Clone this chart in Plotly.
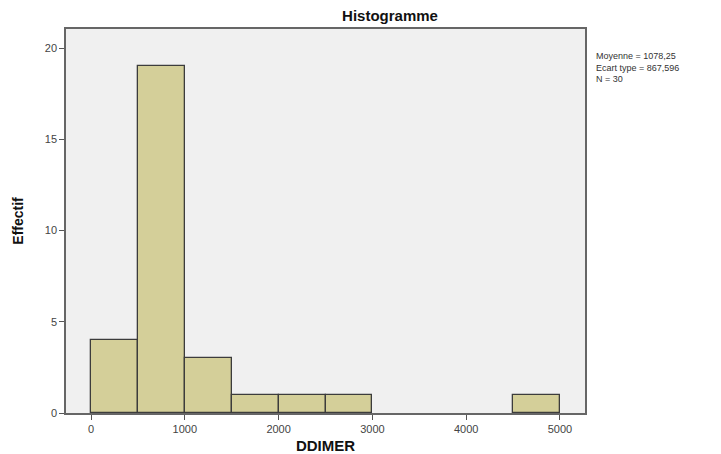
import plotly.graph_objects as go

bin_edges = [0, 500, 1000, 1500, 2000, 2500, 3000, 3500, 4000, 4500, 5000]
counts = [4, 19, 3, 1, 1, 1, 0, 0, 0, 1]
x_ticks = [0, 1000, 2000, 3000, 4000, 5000]
y_ticks = [0, 5, 10, 15, 20]
stats_text = ["Moyenne = 1078,25", "Ecart type = 867,596", "N = 30"]

bins = [((a + b) / 2, b - a, c)
        for a, b, c in zip(bin_edges[:-1], bin_edges[1:], counts) if c > 0]

fig = go.Figure(go.Bar(
    x=[b[0] for b in bins], y=[b[2] for b in bins], width=[b[1] for b in bins],
    marker=dict(color="#d4cf99", line=dict(color="#3c3c3c", width=1.3)),
    hoverinfo="x+y",
))

W, H = 721, 454
ml, mr, mt, mb = 66, 136, 29, 41
pw = W - ml - mr
ph = H - mt - mb

fig.update_layout(
    width=W, height=H,
    margin=dict(l=ml, r=mr, t=mt, b=mb, pad=0, autoexpand=False),
    paper_bgcolor="white",
    plot_bgcolor="#f0f0f0",
    font=dict(family="Liberation Sans, Arial, sans-serif", color="#333"),
    showlegend=False,
    bargap=0,
    title=dict(text="<b>Histogramme</b>", x=390 / W, xanchor="center",
               y=1 - 16 / H, yanchor="middle", automargin=False,
               font=dict(size=15, color="#111")),
    xaxis=dict(
        range=[-267, 5267], tickvals=x_ticks, ticktext=[str(v) for v in x_ticks],
        showgrid=False, zeroline=False, showline=True, mirror=True, automargin=False,
        linecolor="#666", linewidth=1.5, ticks="outside", ticklen=5,
        tickcolor="#555", tickwidth=1.3, tickfont=dict(size=11, color="#444"),
        title=dict(text="<b>DDIMER</b>", font=dict(size=15, color="#111"), standoff=9),
    ),
    yaxis=dict(
        range=[0, 21.05], tickvals=y_ticks, ticktext=[str(v) for v in y_ticks],
        showgrid=False, zeroline=False, showline=True, mirror=True, automargin=False,
        linecolor="#666", linewidth=1.5, ticks="outside", ticklen=5,
        tickcolor="#555", tickwidth=1.3, tickfont=dict(size=11, color="#444"),
        title=dict(text="<b>Effectif</b>", font=dict(size=14, color="#111"), standoff=18),
    ),
    annotations=[dict(
        text="<br>".join(stats_text), xref="paper", yref="paper",
        x=(594 - ml) / pw, y=(H - mb - 49) / ph, xanchor="left", yanchor="top",
        align="left", showarrow=False, font=dict(size=9, color="#333"),
    )],
)

fig.write_html("out.html", config={"displayModeBar": False},
               post_script="document.body.style.margin='0';document.body.style.overflow='hidden';")
